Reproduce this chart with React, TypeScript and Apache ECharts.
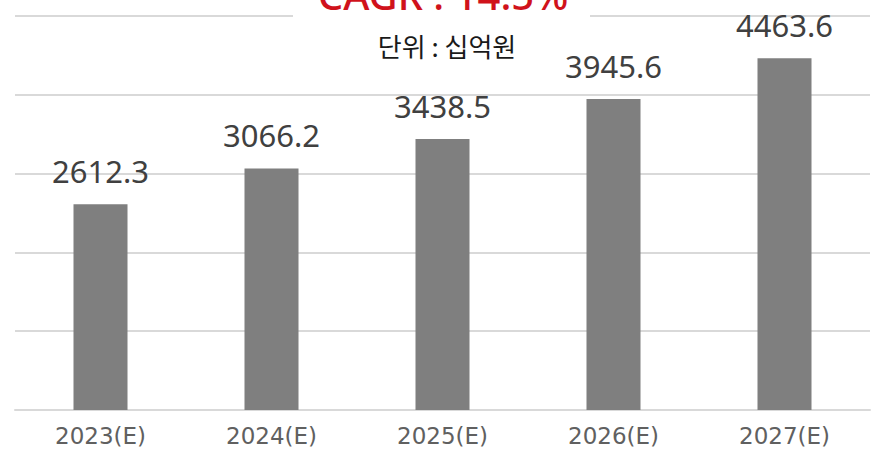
import React, { useEffect, useRef } from "react";
import * as echarts from "echarts";

const categories = ["2023(E)", "2024(E)", "2025(E)", "2026(E)", "2027(E)"];
const values = [2612.3, 3066.2, 3438.5, 3945.6, 4463.6];
const titleText = "CAGR : 14.5%";
const unitText = "단위 : 십억원";

export default function App() {
  const ref = useRef<HTMLDivElement>(null);
  useEffect(() => {
    const chart = echarts.init(ref.current!, null, { renderer: "svg" });
    chart.setOption({
      animation: false,
      backgroundColor: "#ffffff",
      grid: { left: 15, right: 9, top: 16, bottom: 45 },
      xAxis: {
        type: "category",
        data: categories,
        axisLine: { lineStyle: { color: "#d9d9d9", width: 2 } },
        axisTick: { show: false },
        axisLabel: {
          color: "#606060",
          fontSize: 23,
          fontFamily: "DejaVu Sans",
          margin: 14,
        },
      },
      yAxis: {
        type: "value",
        min: 0,
        max: 5000,
        interval: 1000,
        axisLabel: { show: false },
        axisLine: { show: false },
        axisTick: { show: false },
        splitLine: { lineStyle: { color: "#d9d9d9", width: 2 } },
      },
      series: [
        {
          type: "bar",
          data: values,
          barWidth: 54,
          itemStyle: { color: "#7f7f7f" },
          label: {
            show: true,
            position: "top",
            distance: 18,
            color: "#404040",
            fontSize: 31,
            fontFamily: "Noto Sans",
            formatter: (p: any) => p.value.toFixed(1),
          },
        },
      ],
      graphic: [
        {
          type: "rect",
          shape: { x: 293, y: 0, width: 297, height: 22 },
          style: { fill: "#ffffff" },
          z: 100,
        },
        {
          type: "text",
          x: 443,
          y: -6,
          z: 101,
          style: {
            text: titleText,
            fill: "#d0121b",
            fontSize: 40,
            fontFamily: "Noto Sans",
            fontWeight: 500,
            align: "center",
            verticalAlign: "middle",
          },
        },
        {
          type: "text",
          x: 447,
          y: 45,
          z: 101,
          style: {
            text: unitText,
            fill: "#1a1a1a",
            fontSize: 26,
            fontFamily: "Noto Sans CJK KR",
            align: "center",
            verticalAlign: "middle",
          },
        },
      ],
    });
    return () => chart.dispose();
  }, []);
  return (
    <div
      ref={ref}
      style={{ position: "fixed", left: 0, top: 0, width: 879, height: 455 }}
    />
  );
}
